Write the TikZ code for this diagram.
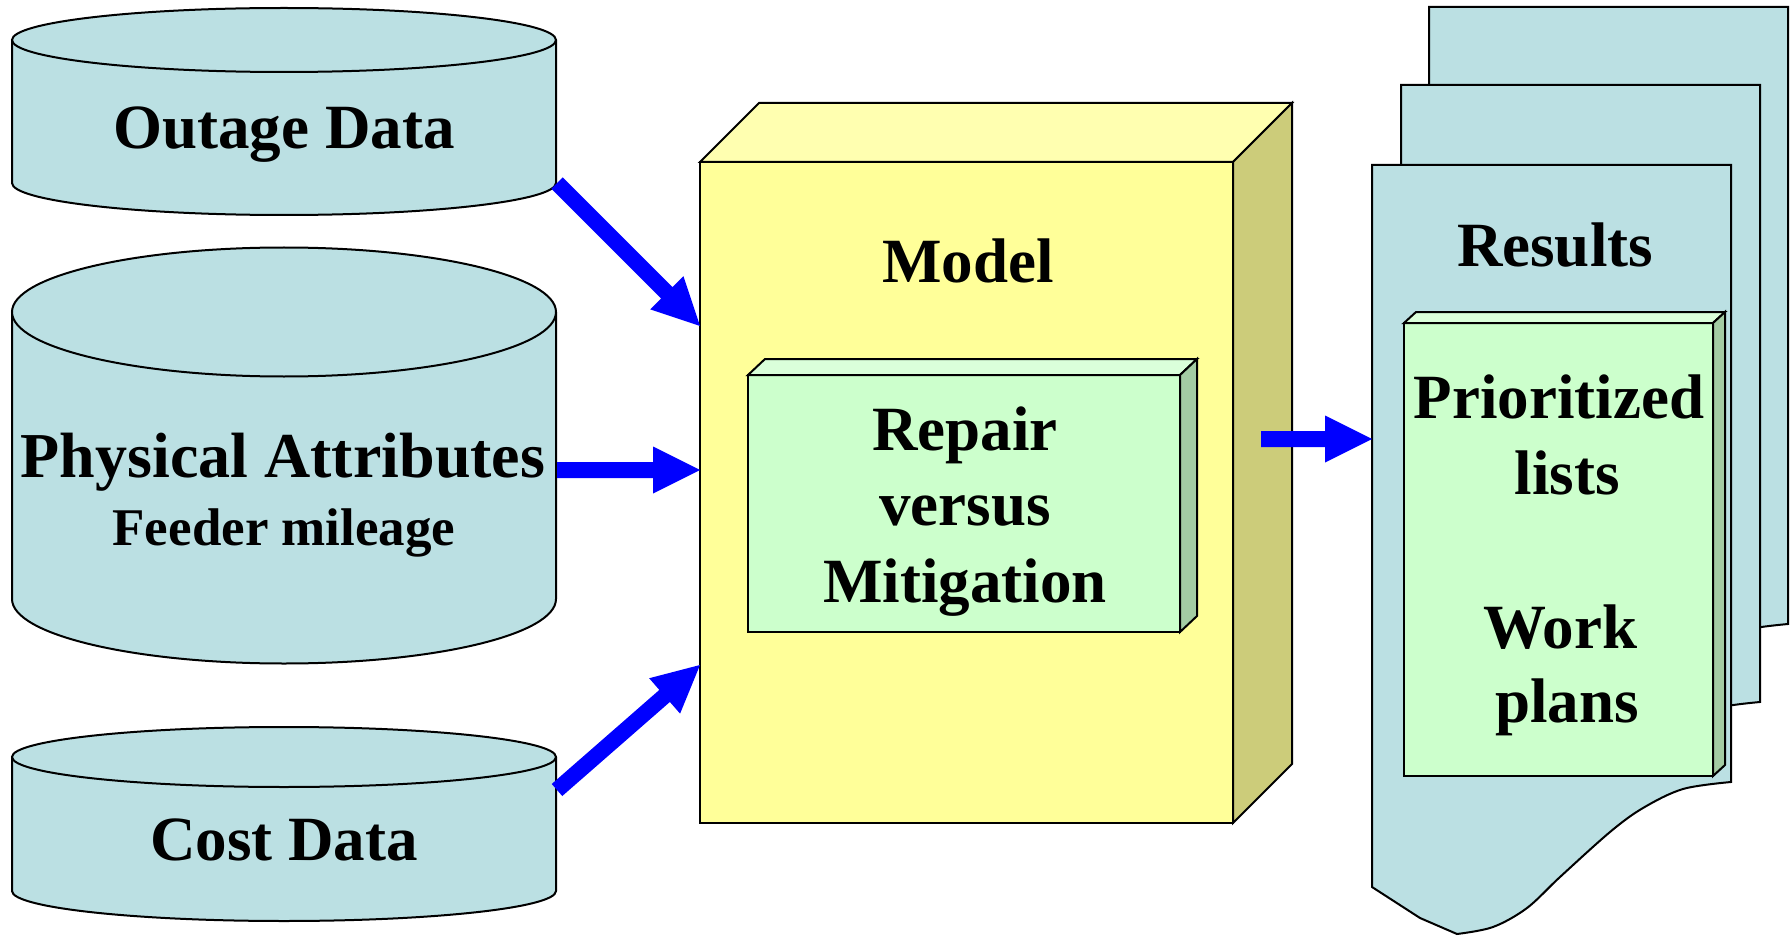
\documentclass[tikz,border=0pt]{standalone}
\usepackage{fontspec}
\setmainfont{Liberation Serif}
\usetikzlibrary{calc}

\definecolor{cylfill}{HTML}{BBE0E3}
\definecolor{boxfront}{HTML}{FFFF99}
\definecolor{boxtop}{HTML}{FFFFB0}
\definecolor{boxside}{HTML}{CCCC7A}
\definecolor{grnfront}{HTML}{CCFFCC}
\definecolor{grntop}{HTML}{DAFFDA}
\definecolor{grnside}{HTML}{A3CCA3}
\definecolor{arrowblue}{HTML}{0000FF}

\tikzset{
  outline/.style={draw=black, line width=2pt, line join=miter},
  bigtext/.style={font=\bfseries\fontsize{63}{76}\selectfont, inner sep=0pt, anchor=base},
  subtext/.style={font=\bfseries\fontsize{53}{64}\selectfont, inner sep=0pt, anchor=base},
}

% database cylinder: centre x, top centre y, bottom centre y, x radius, y radius
\newcommand\datacyl[5]{%
  \fill[cylfill] (#1-#4,#2) -- (#1-#4,#3)
    arc[start angle=180, end angle=360, x radius=#4pt, y radius=#5pt] -- (#1+#4,#2) -- cycle;
  \draw[outline] (#1-#4,#2) -- (#1-#4,#3)
    arc[start angle=180, end angle=360, x radius=#4pt, y radius=#5pt] -- (#1+#4,#2);
  \filldraw[fill=cylfill, outline] (#1,#2) ellipse [x radius=#4pt, y radius=#5pt];
}

% one sheet of the stacked document, placed by its top left corner
\newcommand\docsheet[2]{%
  \filldraw[fill=cylfill, outline, shift={(#1,#2)}]
    (0,0) -- (359,0) -- (359,617)
    -- plot[smooth, tension=0.55] coordinates {(359,617) (311,624) (271,643) (238,667)
         (188,712) (155,743) (121,762) (85,769)}
    -- (48,753) -- (0,722) -- cycle;
}

% thick block arrow from #1 to #2
\newcommand\fatarrow[2]{%
  \coordinate (fa-c) at ($(#2)!47pt!(#1)$);
  \fill[arrowblue] ($(#1)!8pt!90:(#2)$) -- ($(fa-c)!8pt!90:(#2)$)
    -- ($(fa-c)!23.5pt!90:(#2)$) -- (#2) -- ($(fa-c)!23.5pt!-90:(#2)$)
    -- ($(fa-c)!8pt!-90:(#2)$) -- ($(#1)!8pt!-90:(#2)$) -- cycle;
}

\begin{document}
\begin{tikzpicture}[x=1pt, y=-1pt]
  \useasboundingbox (0,0) rectangle (1792,936);
  \fill[white] (0,0) rectangle (1792,936);

  % input data stores
  \datacyl{284}{40}{183}{272}{32}
  \datacyl{284}{312}{599}{272}{64.5}
  \datacyl{284}{757}{891}{272}{30}

  \node[bigtext] (outage) at (284,149) {Outage Data};
  \node[bigtext, font=\bfseries\fontsize{64}{76}\selectfont] (phys) at (283,477) {Physical Attributes};
  \node[subtext] (feeder) at (284,545) {Feeder mileage};
  \node[bigtext] (cost) at (284,860) {Cost Data};

  % model block
  \filldraw[fill=boxfront, outline] (700,162) rectangle (1233,823);
  \filldraw[fill=boxtop, outline] (700,162) -- (759,103) -- (1292,103) -- (1233,162) -- cycle;
  \filldraw[fill=boxside, outline] (1233,162) -- (1292,103) -- (1292,764) -- (1233,823) -- cycle;
  \node[bigtext] (model) at (968,283) {Model};

  % repair versus mitigation slab
  \filldraw[fill=grnfront, outline] (748,375) rectangle (1180,632);
  \filldraw[fill=grntop, outline] (748,375) -- (765,359) -- (1197,359) -- (1180,375) -- cycle;
  \filldraw[fill=grnside, outline] (1180,375) -- (1197,359) -- (1197,616) -- (1180,632) -- cycle;
  \node[bigtext] (rep1) at (965,450) {Repair};
  \node[bigtext] (rep2) at (965,525) {versus};
  \node[bigtext] (rep3) at (965,602) {Mitigation};

  % stacked result documents
  \docsheet{1429}{7}
  \docsheet{1401}{85}
  \docsheet{1372}{165}
  \node[bigtext] (results) at (1555,267) {Results};

  \filldraw[fill=grnfront, outline] (1404,323) rectangle (1713,776);
  \filldraw[fill=grntop, outline] (1404,323) -- (1416,312) -- (1725,312) -- (1713,323) -- cycle;
  \filldraw[fill=grnside, outline] (1713,323) -- (1725,312) -- (1725,765) -- (1713,776) -- cycle;
  \node[bigtext] (res1) at (1559,418) {Prioritized};
  \node[bigtext] (res2) at (1567,494) {lists};
  \node[bigtext] (res3) at (1560,648) {Work};
  \node[bigtext] (res4) at (1567,722) {plans};

  % connector end points
  \coordinate (od-out) at (557,183);
  \coordinate (pa-out) at (557,470);
  \coordinate (cd-out) at (557,790);
  \coordinate (m-in1) at (700,326);
  \coordinate (m-in2) at (700,470);
  \coordinate (m-in3) at (700,665);
  \coordinate (m-out) at (1261,439);
  \coordinate (r-in) at (1372,439);

  \fatarrow{od-out}{m-in1}
  \fatarrow{pa-out}{m-in2}
  \fatarrow{cd-out}{m-in3}
  \fatarrow{m-out}{r-in}
\end{tikzpicture}
\end{document}
